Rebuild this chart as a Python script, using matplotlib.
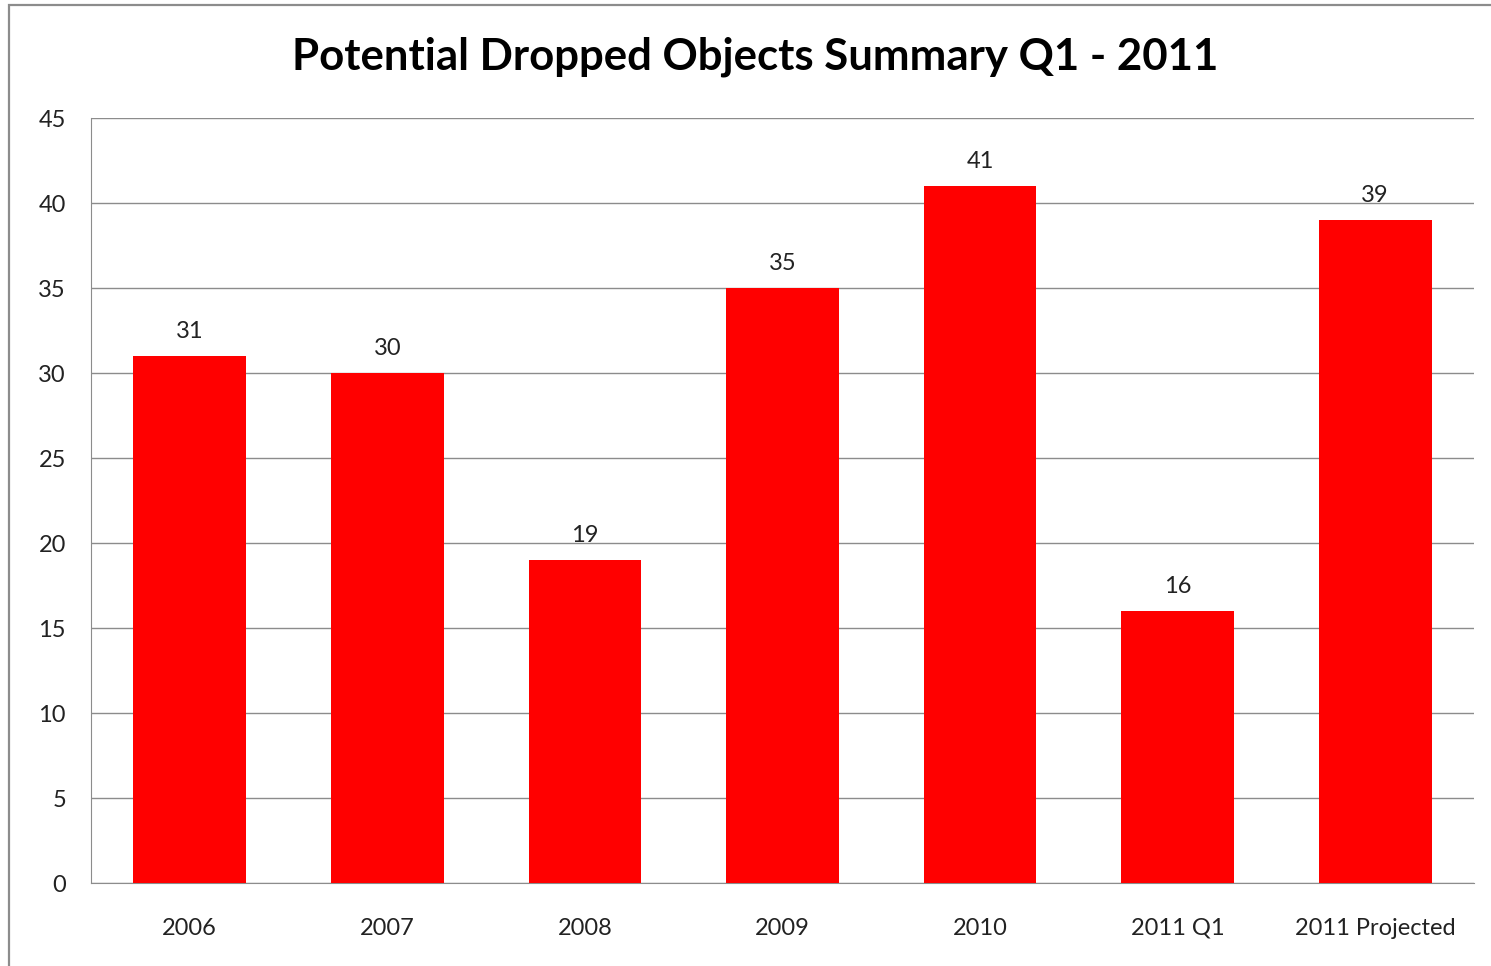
import matplotlib.pyplot as plt
from matplotlib.patches import Rectangle

categories = ['2006', '2007', '2008', '2009', '2010', '2011 Q1', '2011 Projected']
values = [31, 30, 19, 35, 41, 16, 39]
yticks = [0, 5, 10, 15, 20, 25, 30, 35, 40, 45]

plt.rcParams['font.family'] = ['Lato', 'DejaVu Sans']

fig = plt.figure(figsize=(14.91, 9.66), dpi=100)
ax = fig.add_axes([0.0610, 0.0859, 0.9276, 0.7919])

# outer chart border (cropped on right and bottom)
fig.patches.append(Rectangle((9 / 1491, -0.05), 1.1, 1 - 5 / 966 + 0.05,
                             transform=fig.transFigure, fill=False,
                             edgecolor='#8c8c8c', linewidth=1.6))

x = list(range(len(categories)))
bars = ax.bar(x, values, width=0.57, color='#ff0000', zorder=3)
for bar, v in zip(bars, values):
    ax.text(bar.get_x() + bar.get_width() / 2, v + 0.85, str(v),
            ha='center', va='bottom', fontsize=17, color='#222222', zorder=4)

ax.set_xlim(-0.5, len(categories) - 0.5)
ax.set_ylim(0, 45)
ax.set_yticks(yticks)
ax.set_xticks(x)
ax.set_xticklabels(categories, fontsize=17, color='#222222')
ax.tick_params(axis='y', labelsize=17, labelcolor='#222222', length=0, pad=18)
ax.tick_params(axis='x', length=0, pad=25)
ax.grid(axis='y', color='#8c8c8c', linewidth=1.0, zorder=0)
ax.spines['top'].set_visible(False)
ax.spines['right'].set_visible(False)
ax.spines['left'].set_color('#8c8c8c')
ax.spines['bottom'].set_color('#8c8c8c')

fig.text(755 / 1491, 1 - 57 / 966, 'Potential Dropped Objects Summary Q1 - 2011',
         ha='center', va='center', fontsize=31.5, fontweight='bold', color='black')

plt.savefig('out.png')
